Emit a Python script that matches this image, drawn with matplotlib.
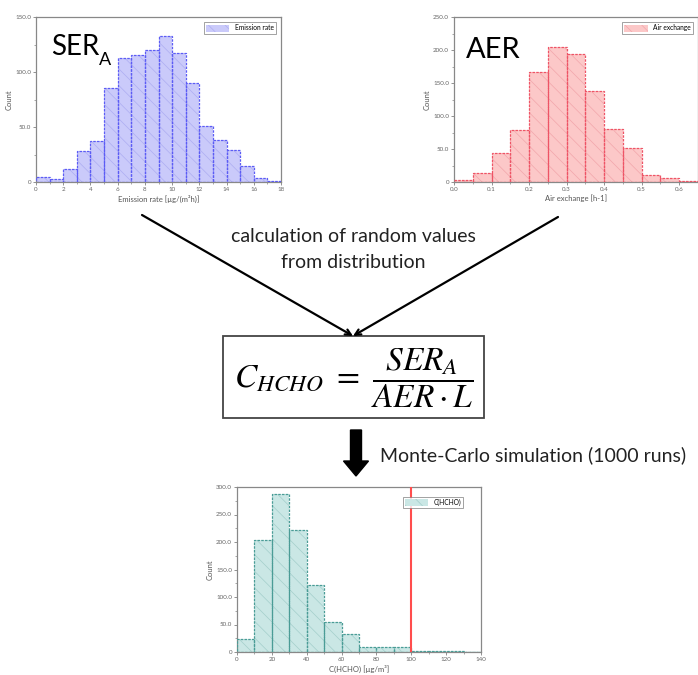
# Monte-Carlo scheme: two input histograms -> formula -> output histogram
import numpy as np
import matplotlib.pyplot as plt
from matplotlib.patches import Rectangle, FancyArrow
from matplotlib.ticker import FuncFormatter, AutoMinorLocator

plt.rcParams["font.family"] = ["Lato", "DejaVu Sans"]
plt.rcParams["mathtext.fontset"] = "stix"
plt.rcParams["hatch.linewidth"] = 0.5

# data
ser_width = 1.0
ser_counts = [5, 3, 12, 28, 37, 85, 113, 115, 120, 133, 117, 90, 51, 38, 29, 15, 4, 1]
ser_xticks = [0, 2, 4, 6, 8, 10, 12, 14, 16, 18]
ser_yticks = [0, 50, 100, 150]

aer_width = 0.05
aer_counts = [3, 14, 44, 79, 166, 204, 194, 138, 81, 51, 11, 6, 1]
aer_xticks = [0.0, 0.1, 0.2, 0.3, 0.4, 0.5, 0.6]
aer_yticks = [0, 50, 100, 150, 200, 250]

c_width = 10
c_counts = [23, 204, 287, 221, 121, 54, 33, 10, 10, 10, 2, 2, 1, 0]
c_xticks = [0, 20, 40, 60, 80, 100, 120, 140]
c_yticks = [0, 50, 100, 150, 200, 250, 300]
c_limit = 100

W, H = 698, 675
fig = plt.figure(figsize=(W / 100, H / 100), dpi=100)


def px_axes(left, top, right, bottom):
    return fig.add_axes([left / W, 1 - bottom / H, (right - left) / W, (bottom - top) / H])


def yfmt(v, pos):
    return "0" if v == 0 else "%.1f" % v


def histo(ax, counts, width, fill, hatchc, edge, label, xlim, ylim, xticks, yticks, xlabel, xfmt):
    starts = np.arange(len(counts)) * width
    ax.bar(starts, counts, width=width, align="edge", color=fill, edgecolor=hatchc,
           hatch="\\\\", linewidth=0, label=label, zorder=2)
    ax.bar(starts, counts, width=width, align="edge", fill=False, edgecolor=edge,
           linewidth=0.9, linestyle=(0, (2, 1)), zorder=3)
    ax.set_xlim(*xlim)
    ax.set_ylim(*ylim)
    ax.set_xticks(xticks)
    ax.set_yticks(yticks)
    ax.xaxis.set_major_formatter(FuncFormatter(xfmt))
    ax.yaxis.set_major_formatter(FuncFormatter(yfmt))
    ax.yaxis.set_minor_locator(AutoMinorLocator(2))
    ax.xaxis.set_minor_locator(AutoMinorLocator(2))
    ax.tick_params(labelsize=4.5, colors="#666666", length=2, width=0.5, pad=1.5)
    ax.tick_params(which="minor", length=1.2, width=0.4, colors="#666666")
    for s in ax.spines.values():
        s.set_color("#888888")
        s.set_linewidth(0.9)
    ax.set_xlabel(xlabel, fontsize=5.5, color="#555555", labelpad=2)
    ax.set_ylabel("Count", fontsize=5.5, color="#555555", labelpad=2)


def small_legend(ax, **kw):
    leg = ax.legend(loc="upper right", fontsize=4.8, frameon=True, fancybox=False,
                    edgecolor="#777777", borderpad=0.3, handlelength=3.5,
                    handleheight=1.2, **kw)
    leg.get_frame().set_linewidth(0.6)


# background overlay in pixel coordinates
bg = fig.add_axes([0, 0, 1, 1])
bg.set_xlim(0, W)
bg.set_ylim(H, 0)
bg.axis("off")

ax1 = px_axes(36, 17, 281, 182)
histo(ax1, ser_counts, ser_width, "#cacafa", "#adadf2", "#5c5cf5", "Emission rate",
      (0, 18), (0, 150), ser_xticks, ser_yticks,
      "Emission rate [µg/(m²h)]", lambda v, p: "%d" % v)
small_legend(ax1, borderaxespad=0.8)
t = ax1.text(0.06, 0.77, "SER", transform=ax1.transAxes, fontsize=20, color="black", zorder=5)
ax1.annotate("A", xy=(1.0, 0.0), xycoords=t, fontsize=13, va="center", ha="left")

ax2 = px_axes(454, 17, 698, 182)
histo(ax2, aer_counts, aer_width, "#fcc8c8", "#f2a6ab", "#ee5466", "Air exchange",
      (0, 0.65), (0, 250), aer_xticks, aer_yticks,
      "Air exchange [h-1]", lambda v, p: "%.1f" % v)
small_legend(ax2, borderaxespad=0.8)
ax2.text(0.05, 0.75, "AER", transform=ax2.transAxes, fontsize=21, color="black", zorder=5,
         bbox=dict(facecolor="white", edgecolor="none", pad=6))

ax3 = px_axes(237, 487, 481, 652)
histo(ax3, c_counts, c_width, "#cae7e5", "#a3cfcb", "#4a9c96", "C(HCHO)",
      (0, 140), (0, 300), c_xticks, c_yticks,
      "C(HCHO) [µg/m³]", lambda v, p: "%d" % v)
ax3.axvline(c_limit, color="#ff4d4d", linewidth=1.5, zorder=4)
small_legend(ax3, bbox_to_anchor=(0.94, 0.96))

# flow arrows
for x0, y0 in [(142, 215), (558, 217)]:
    bg.annotate("", xy=(353, 336), xytext=(x0, y0),
                arrowprops=dict(arrowstyle="->", color="black", lw=1.6,
                                mutation_scale=10, shrinkA=0, shrinkB=0))
bg.text(353, 236, "calculation of random values", ha="center", va="center",
        fontsize=14, color="#222222")
bg.text(353, 263, "from distribution", ha="center", va="center",
        fontsize=14, color="#222222")

bg.add_patch(Rectangle((223, 336), 261, 82, fill=False, edgecolor="#444444", linewidth=1.3))
bg.text(354, 378, r"$C_{HCHO}\ =\ \dfrac{SER_A}{AER \cdot L}$", ha="center", va="center",
        fontsize=24, color="black")

bg.add_patch(FancyArrow(356, 430, 0, 46, width=11, head_width=25, head_length=15,
                        length_includes_head=True, color="black"))
bg.text(380, 455, "Monte-Carlo simulation (1000 runs)", ha="left", va="center",
        fontsize=14, color="#222222")

fig.savefig("out.png", dpi=100)
